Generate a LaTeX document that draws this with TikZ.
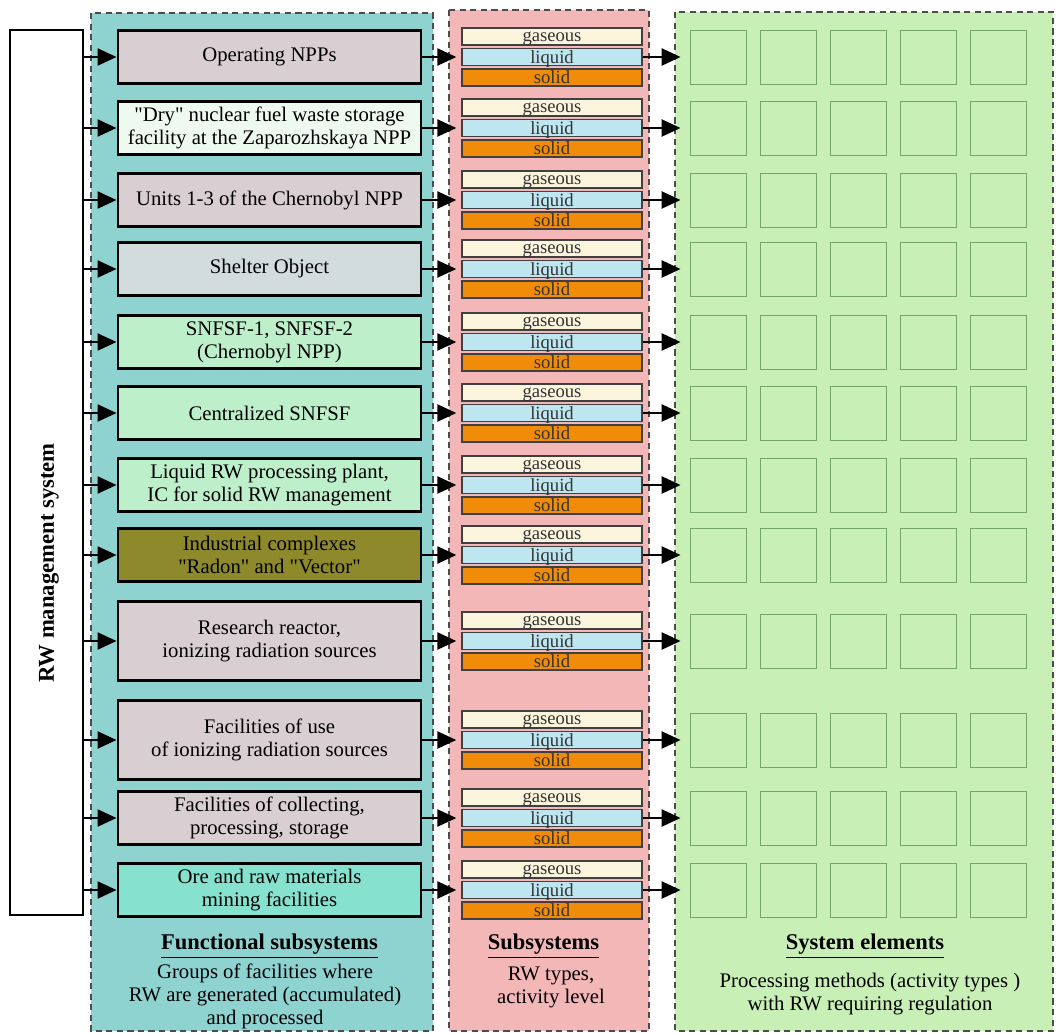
\documentclass[tikz,border=0pt]{standalone}
\usepackage{fontspec}
\setmainfont{Liberation Serif}
\usetikzlibrary{arrows.meta}

\definecolor{panelteal}{HTML}{8FD3D1}
\definecolor{panelpink}{HTML}{F3B7B8}
\definecolor{panelgreen}{HTML}{C8F0B6}
\definecolor{mauve}{HTML}{D9CFD2}
\definecolor{drymint}{HTML}{EEF9EF}
\definecolor{sheltergrey}{HTML}{D3DCDC}
\definecolor{snfgreen}{HTML}{BDEFCB}
\definecolor{olive}{HTML}{8E8A2B}
\definecolor{oreteal}{HTML}{86E1CE}
\definecolor{gascream}{HTML}{FBF5DE}
\definecolor{liquidblue}{HTML}{BEE6F0}
\definecolor{solidorange}{HTML}{F08C0A}
\definecolor{elemline}{HTML}{74A56B}

\tikzset{
  panel/.style={draw=black!70,line width=0.75pt,dash pattern=on 3.5pt off 2.5pt},
  facility/.style={draw=black,line width=1.7pt,minimum width=6.06cm,align=center,
    inner sep=0pt,font=\fontsize{11.8}{13.1}\selectfont},
  wastebar/.style={draw=black!75,line width=0.8pt,minimum width=3.6cm,minimum height=0.34cm,
    inner sep=0pt,text depth=0pt,text=black!80,font=\fontsize{10.6}{10.6}\selectfont},
  element/.style={draw=elemline,line width=0.5pt,minimum width=1.12cm,minimum height=1.08cm,inner sep=0pt},
  feed/.style={line width=1.4pt,-{Triangle[length=0.38cm,width=0.34cm]}},
  heading/.style={font=\fontsize{12.8}{14}\selectfont\bfseries},
  caption/.style={align=center,font=\fontsize{11.8}{13.1}\selectfont},
}

% one row: name, y, box height, box colour, box text
\newcommand{\wasterow}[5]{
  \node[facility,fill=#4,minimum height=#3cm] (fac-#1) at (5.39,-#2) {#5};
  \node[wastebar,fill=gascream] (gas-#1) at (11.04,-#2+0.41) {gaseous};
  \node[wastebar,fill=liquidblue] (liq-#1) at (11.04,-#2) {liquid};
  \node[wastebar,fill=solidorange] (sol-#1) at (11.04,-#2-0.41) {solid};
  \foreach \k in {1,...,5}
    \node[element] (el-#1-\k) at (12.96+1.4*\k,-#2) {};
  \draw[feed] (rw.east |- fac-#1.west) -- (fac-#1.west);
  \draw[feed,shorten >=0.1cm] (fac-#1.east) -- (liq-#1.west);
  \draw[feed,shorten >=0.18cm] (liq-#1.east) -- (el-#1-1.west);
}

\begin{document}
\begin{tikzpicture}
  \useasboundingbox (0,0) rectangle (21.12,-20.66);

  % three columns
  \draw[panel,fill=panelteal] (1.82,-0.26) rectangle (8.66,-20.62);
  \draw[panel,fill=panelpink] (8.98,-0.2) rectangle (12.98,-20.62);
  \draw[panel,fill=panelgreen] (13.5,-0.24) rectangle (21.06,-20.62);

  \node[draw,line width=1.4pt,fill=white,minimum width=1.46cm,minimum height=17.7cm,inner sep=0pt] (rw) at (0.93,-9.45) {};
  \node[rotate=90,font=\fontsize{12.9}{14}\selectfont\bfseries] (rwlabel) at (0.98,-11.26) {RW management system};

  \wasterow{1}{1.14}{1.06}{mauve}{Operating NPPs}
  \wasterow{2}{2.56}{1.06}{drymint}{\textquotedbl Dry\textquotedbl{} nuclear fuel waste storage\\facility at the Zaparozhskaya NPP}
  \wasterow{3}{4.00}{1.06}{mauve}{Units 1-3 of the Chernobyl NPP}
  \wasterow{4}{5.38}{1.06}{sheltergrey}{Shelter Object}
  \wasterow{5}{6.84}{1.06}{snfgreen}{SNFSF-1, SNFSF-2\\(Chernobyl NPP)}
  \wasterow{6}{8.26}{1.06}{snfgreen}{Centralized SNFSF}
  \wasterow{7}{9.70}{1.06}{snfgreen}{Liquid RW processing plant,\\IC for solid RW management}
  \wasterow{8}{11.10}{1.06}{olive}{Industrial complexes\\\textquotedbl Radon\textquotedbl{} and \textquotedbl Vector\textquotedbl}
  \wasterow{9}{12.82}{1.58}{mauve}{Research reactor,\\ionizing radiation sources}
  \wasterow{10}{14.80}{1.58}{mauve}{Facilities of use\\of ionizing radiation sources}
  \wasterow{11}{16.36}{1.06}{mauve}{Facilities of collecting,\\processing, storage}
  \wasterow{12}{17.80}{1.06}{oreteal}{Ore and raw materials\\mining facilities}

  \node[heading] (fhead) at (5.39,-18.92) {\underline{Functional subsystems}};
  \node[caption] (fcap) at (5.30,-19.93) {Groups of facilities where\\RW are generated (accumulated)\\and processed};
  \node[heading] (shead) at (10.87,-18.92) {\underline{Subsystems}};
  \node[caption] (scap) at (11.02,-19.75) {RW types,\\activity level};
  \node[heading] (ehead) at (17.3,-18.92) {\underline{System elements}};
  \node[caption] (ecap) at (17.4,-19.88) {Processing methods (activity types )\\with RW requiring regulation};
\end{tikzpicture}
\end{document}
